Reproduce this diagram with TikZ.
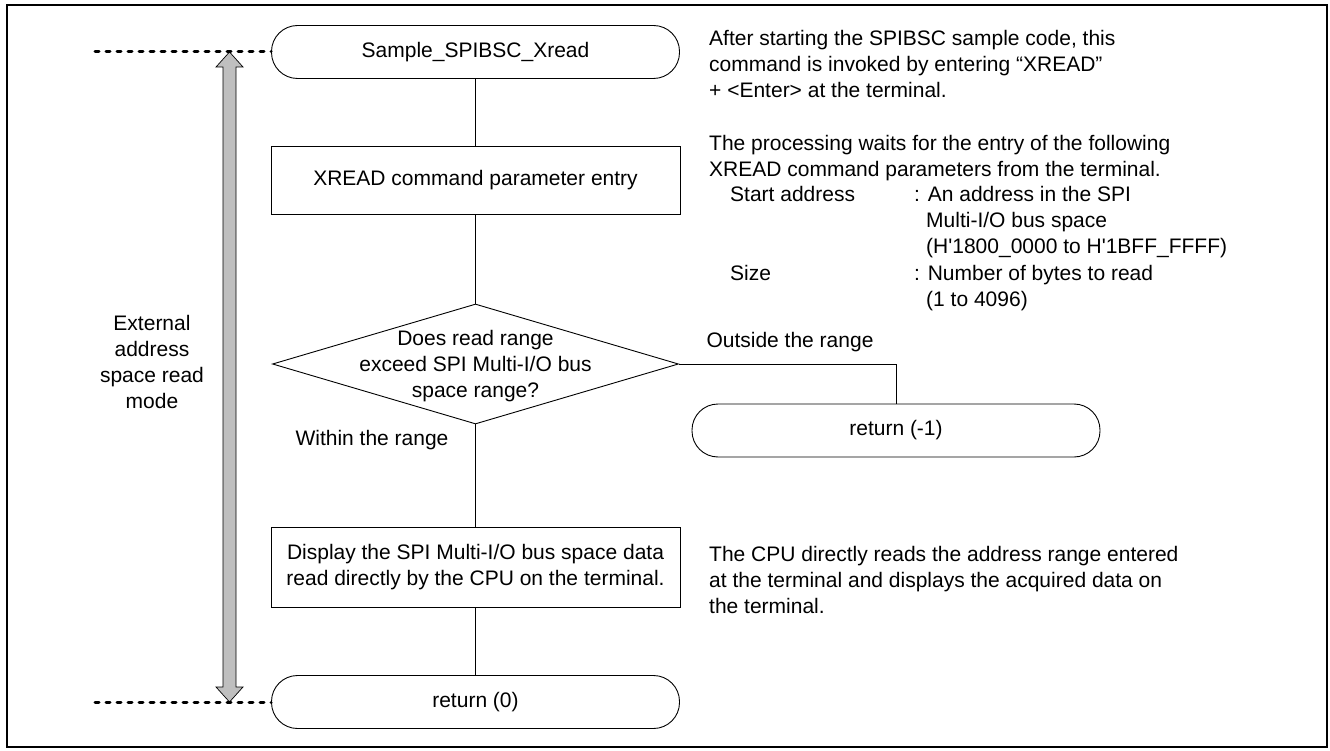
\documentclass[tikz,border=0pt]{standalone}
\usepackage{fontspec}
\setmainfont{Liberation Sans}
\newfontfamily\plainfont{Liberation Sans}
\usetikzlibrary{shapes.geometric}
\begin{document}
\begin{tikzpicture}[x=1pt,y=-1pt,
  every node/.style={font=\fontsize{21}{26}\selectfont, inner sep=0pt},
  term/.style={draw, line width=0.9pt, rounded corners=26pt,
    minimum width=408pt, minimum height=53pt},
  proc/.style={draw, line width=0.9pt, minimum width=409pt},
  flow/.style={line width=0.9pt},
  dots/.style={line width=3pt, dash pattern=on 4pt off 7pt, line cap=round},
  note/.style={anchor=base west},
]
\useasboundingbox (0,0) rectangle (1330,751);
% outer frame
\draw[line width=2.6pt] (7,5) rectangle (1327,747);

% flow chart
\node[term] (start) at (475.5,52) {Sample\_SPIBSC\_Xread};
\node[proc, minimum height=68pt] (param) at (475.5,180) {XREAD command parameter entry};
\node[diamond, draw, line width=0.9pt, minimum width=406pt, minimum height=120pt] (dec) at (475.5,364) {};
\node[align=center] (dectext) at (475.5,366.5) {Does read range\\exceed SPI Multi-I/O bus\\space range?};
\node[term] (retm) at (896,430.5) {return (-1)};
\node[proc, minimum height=80pt, align=center] (disp) at (475.5,567)
  {Display the SPI Multi-I/O bus space data\\read directly by the CPU on the terminal.};
\node[term] (ret0) at (475.5,702) {return (0)};

\draw[flow] (start) -- (param);
\draw[flow] (param) -- (dec);
\draw[flow] (dec.south) -- (disp.north);
\draw[flow] (disp) -- (ret0);
\draw[flow] (dec.east) -| (retm.north);

\node (outside) at (790,342) {Outside the range};
\node (within) at (372,440) {Within the range};

% mode span arrow
\node[align=center] (mode) at (152,362) {External\\address\\space read\\mode};
\draw[fill=gray!50, line width=0.7pt]
  (229.5,52) -- (243,67) -- (236,67) -- (236,687) -- (243,687) -- (229.5,702)
  -- (216,687) -- (223,687) -- (223,67) -- (216,67) -- cycle;
\coordinate (dtop) at (95,52);
\coordinate (dbot) at (95,702);
\draw[dots] (dtop) -- (start.west);
\draw[dots] (dbot) -- (ret0.west);

% notes
\node[note] (n1) at (709,45.5) {After starting the SPIBSC sample code, this};
\node[note] (n2) at (709,71.5) {command is invoked by entering “XREAD”};
\node[note] (n3) at (709,97.5) {+ <Enter> at the terminal.};

\node[note] (n4) at (709,150.5) {The processing waits for the entry of the following};
\node[note] (n5) at (709,176.5) {XREAD command parameters from the terminal.};
\node[note] (n6) at (730,202) {Start address};
\node[note] (n7) at (914,202) {: An address in the SPI};
\node[note] (n8) at (926,228) {Multi-I/O bus space};
\node[note] (n9) at (926,254) {\plainfont (H'1800\_0000 to H'1BFF\_FFFF)};
\node[note] (n10) at (730,280) {Size};
\node[note] (n11) at (914,280) {: Number of bytes to read};
\node[note] (n12) at (926,306) {(1 to 4096)};

\node[note] (n13) at (709,561.5) {The CPU directly reads the address range entered};
\node[note] (n14) at (709,587.5) {at the terminal and displays the acquired data on};
\node[note] (n15) at (709,613.5) {the terminal.};
\end{tikzpicture}
\end{document}
